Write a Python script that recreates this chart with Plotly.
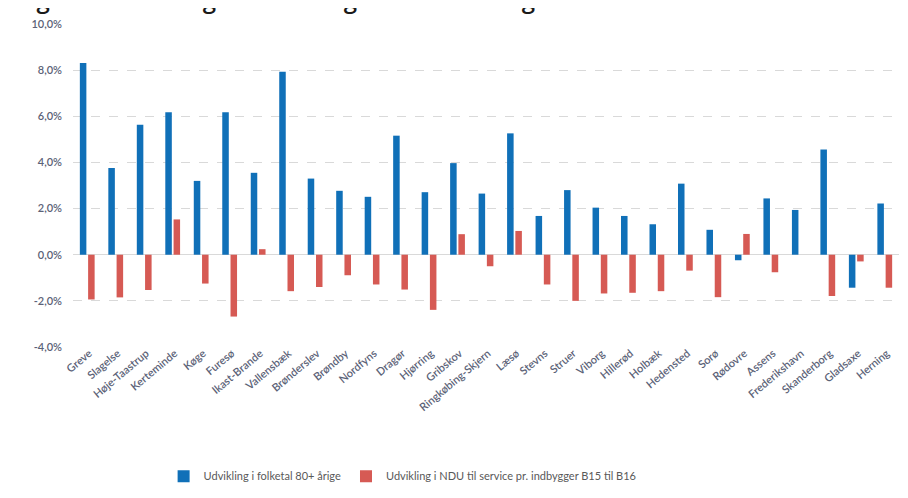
import plotly.graph_objects as go

categories = ["Greve", "Slagelse", "Høje-Taastrup", "Kerteminde", "Køge", "Furesø",
              "Ikast-Brande", "Vallensbæk", "Brønderslev", "Brøndby", "Nordfyns", "Dragør",
              "Hjørring", "Gribskov", "Ringkøbing-Skjern", "Læsø", "Stevns", "Struer",
              "Viborg", "Hillerød", "Holbæk", "Hedensted", "Sorø", "Rødovre", "Assens",
              "Frederikshavn", "Skanderborg", "Gladsaxe", "Herning"]

folketal_80 = [8.31, 3.76, 5.63, 6.17, 3.20, 6.17, 3.55, 7.93, 3.30, 2.77, 2.51, 5.16,
               2.71, 3.97, 2.65, 5.26, 1.68, 2.80, 2.04, 1.68, 1.32, 3.08, 1.08, -0.24,
               2.44, 1.94, 4.56, -1.43, 2.22]

ndu_service = [-1.94, -1.85, -1.53, 1.53, -1.25, -2.68, 0.24, -1.58, -1.40, -0.89, -1.29, -1.51,
               -2.39, 0.89, -0.50, 1.03, -1.29, -2.00, -1.68, -1.65, -1.58, -0.69, -1.84, 0.90,
               -0.76, 0.00, -1.79, -0.29, -1.43]

tick_vals = [-4, -2, 0, 2, 4, 6, 8, 10]
tick_text = ["-4,0%", "-2,0%", "0,0%", "2,0%", "4,0%", "6,0%", "8,0%", "10,0%"]

series_names = ["Udvikling i folketal 80+ årige", "Udvikling i NDU til service pr. indbygger B15 til B16"]

title_text = "Figur 2: Udvikling i folketal og Nettodriftsudgifter til service"

label_color = "#5b6277"
font_family = "Lato, 'Open Sans', sans-serif"

fig = go.Figure()
fig.add_trace(go.Bar(x=categories, y=folketal_80, name=series_names[0],
                     marker=dict(color="#1070b8", line=dict(width=0))))
fig.add_trace(go.Bar(x=categories, y=ndu_service, name=series_names[1],
                     marker=dict(color="#d65a54", line=dict(width=0))))

fig.update_layout(
    width=908, height=498,
    margin=dict(l=65, r=17, t=16, b=159, autoexpand=False),
    paper_bgcolor="white", plot_bgcolor="white",
    barmode="group", bargap=0.42, bargroupgap=0.21,
    font=dict(family=font_family, color=label_color),
    showlegend=True,
    legend=dict(orientation="h", x=0.1097, xanchor="left", y=-0.40, yanchor="middle",
                font=dict(size=11, color="#595959"), itemwidth=30,
                bgcolor="rgba(0,0,0,0)"),
    annotations=[dict(text=title_text,
                      xref="paper", yref="paper", x=-0.07, y=1, xanchor="left", yanchor="bottom",
                      yshift=7, showarrow=False,
                      font=dict(size=24, color="#1a1a1a", family="'Open Sans', sans-serif",
                                weight=600))],
)

fig.update_xaxes(
    type="category", tickangle=-40, tickfont=dict(size=11, color=label_color, weight=600),
    showgrid=False, showline=False, ticks="", automargin=False,
    ticklabelstandoff=-3, ticklabelshift=2,
)
fig.update_yaxes(
    range=[-4, 10], tickvals=tick_vals, ticktext=tick_text,
    tickfont=dict(size=11, color=label_color, weight=600),
    showgrid=True, gridcolor="#d9d9d9", griddash="dash", gridwidth=1,
    zeroline=True, zerolinecolor="#d9d9d9", zerolinewidth=1,
    showline=False, ticks="", ticklabelstandoff=10, automargin=False,
)

fig.write_html("out.html")
